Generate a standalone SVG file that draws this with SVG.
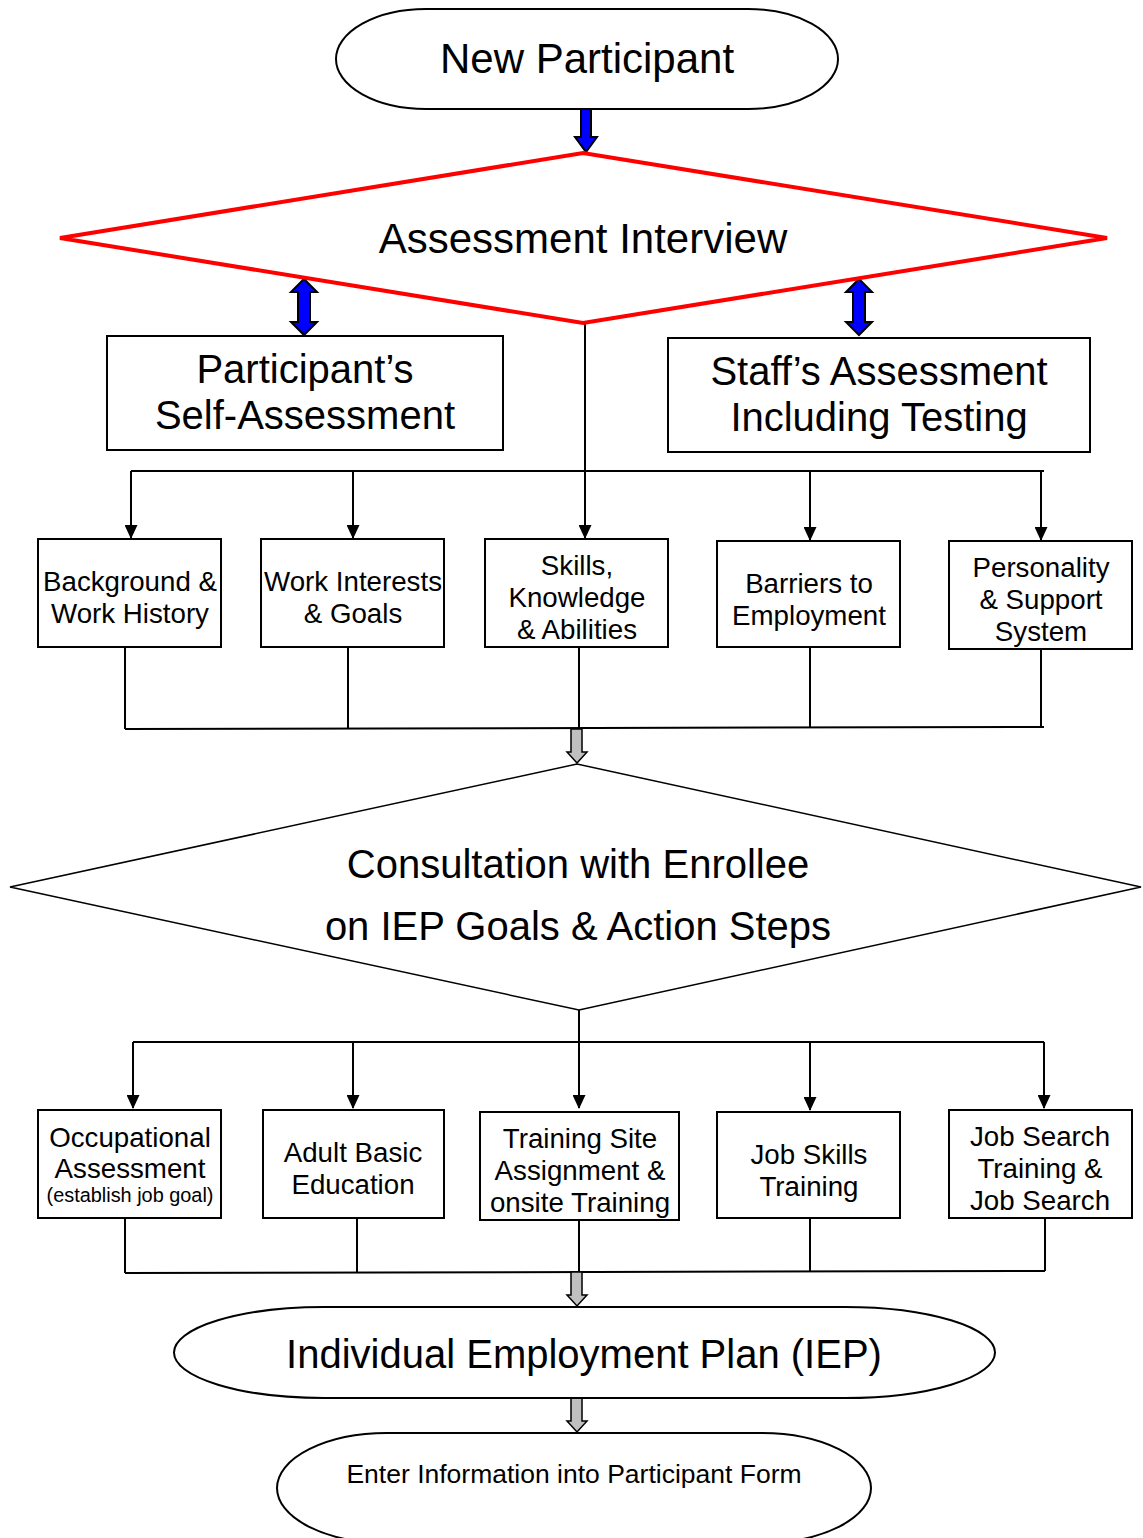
<svg xmlns="http://www.w3.org/2000/svg" width="1143" height="1538" viewBox="0 0 1143 1538">
<style>
text{font-family:"Liberation Sans",Arial,sans-serif;fill:#000;text-anchor:middle}
.box{fill:#fff;stroke:#000;stroke-width:2}
.ln{stroke:#000;stroke-width:2;fill:none}
.t28{font-size:27.7px}
.t40{font-size:40px}
.t42{font-size:42px}
.blue{fill:#0000ff;stroke:#000;stroke-width:2;stroke-linejoin:miter}
.gray{fill:#c0c0c0;stroke:#000;stroke-width:1.5}
</style>
<defs>
<marker id="ah" markerWidth="14" markerHeight="13" refX="13" refY="6.5" orient="auto" markerUnits="userSpaceOnUse" viewBox="0 0 14 13">
<path d="M0,0 L14,6.5 L0,13 z" fill="#000"/>
</marker>
</defs>
<rect width="1143" height="1538" fill="#fff"/>

<g id="connectors">
<path class="blue" d="M581,107 L591,107 L591,137 L597,137 L586,152 L575,137 L581,137 z"/>
<path class="blue" d="M304,279 L317,292 L310,292 L310,322 L317,322 L304,335 L291,322 L298,322 L298,292 L291,292 z"/>
<path class="blue" d="M859,279 L872,292 L865,292 L865,322 L872,322 L859,335 L846,322 L853,322 L853,292 L846,292 z"/>
<line class="ln" x1="585" y1="323" x2="585" y2="538" marker-end="url(#ah)"/>
<line class="ln" x1="131" y1="471" x2="1044" y2="471"/>
<line class="ln" x1="131" y1="471" x2="131" y2="538" marker-end="url(#ah)"/>
<line class="ln" x1="353" y1="471" x2="353" y2="538" marker-end="url(#ah)"/>
<line class="ln" x1="810" y1="471" x2="810" y2="540" marker-end="url(#ah)"/>
<line class="ln" x1="1041" y1="471" x2="1041" y2="540" marker-end="url(#ah)"/>
<line class="ln" x1="125" y1="647" x2="125" y2="729"/>
<line class="ln" x1="348" y1="647" x2="348" y2="729"/>
<line class="ln" x1="579" y1="647" x2="579" y2="729"/>
<line class="ln" x1="810" y1="647" x2="810" y2="728"/>
<line class="ln" x1="1041" y1="649" x2="1041" y2="727"/>
<line class="ln" x1="125" y1="729" x2="1044" y2="727"/>
<path class="gray" d="M571,729 L582,729 L582,752 L587,752 L577,763 L567,752 L571,752 z"/>
<line class="ln" x1="579" y1="1010" x2="579" y2="1108" marker-end="url(#ah)"/>
<line class="ln" x1="133" y1="1042" x2="1044" y2="1042"/>
<line class="ln" x1="133" y1="1042" x2="133" y2="1108" marker-end="url(#ah)"/>
<line class="ln" x1="353" y1="1042" x2="353" y2="1108" marker-end="url(#ah)"/>
<line class="ln" x1="810" y1="1042" x2="810" y2="1110" marker-end="url(#ah)"/>
<line class="ln" x1="1044" y1="1042" x2="1044" y2="1108" marker-end="url(#ah)"/>
<line class="ln" x1="125" y1="1218" x2="125" y2="1273"/>
<line class="ln" x1="357" y1="1218" x2="357" y2="1273"/>
<line class="ln" x1="579" y1="1220" x2="579" y2="1272"/>
<line class="ln" x1="810" y1="1218" x2="810" y2="1272"/>
<line class="ln" x1="1045" y1="1218" x2="1045" y2="1271"/>
<line class="ln" x1="125" y1="1273" x2="1045" y2="1271"/>
<path class="gray" d="M571,1272 L582,1272 L582,1295 L587,1295 L577,1306 L567,1295 L571,1295 z"/>
<path class="gray" d="M571,1398 L582,1398 L582,1421 L587,1421 L577,1432 L567,1421 L571,1421 z"/>
</g>

<g id="new-participant">
<rect x="336" y="9" width="502" height="100" rx="90" ry="50" fill="#fff" stroke="#000" stroke-width="2"/>
<text class="t42" x="587" y="73">New Participant</text>
</g>

<g id="assessment-interview">
<polygon points="60,238 583,153 1107,238 583,323" fill="#fff" stroke="#ff0000" stroke-width="4"/>
<text class="t42" x="583" y="253">Assessment Interview</text>
</g>

<g id="self-assessment">
<rect class="box" x="107" y="336" width="396" height="114"/>
<text class="t40" x="305" y="383">Participant’s</text>
<text class="t40" x="305" y="429">Self-Assessment</text>
</g>

<g id="staff-assessment">
<rect class="box" x="668" y="338" width="422" height="114"/>
<text class="t40" x="879" y="385">Staff’s Assessment</text>
<text class="t40" x="879" y="431">Including Testing</text>
</g>

<g id="background">
<rect class="box" x="38" y="539" width="183" height="108"/>
<text class="t28" x="130" y="591">Background &amp;</text>
<text class="t28" x="130" y="623">Work History</text>
</g>
<g id="work-interests">
<rect class="box" x="261" y="539" width="183" height="108"/>
<text class="t28" x="353" y="591">Work Interests</text>
<text class="t28" x="353" y="623">&amp; Goals</text>
</g>
<g id="skills">
<rect class="box" x="485" y="539" width="183" height="108"/>
<text class="t28" x="577" y="575">Skills,</text>
<text class="t28" x="577" y="607">Knowledge</text>
<text class="t28" x="577" y="639">&amp; Abilities</text>
</g>
<g id="barriers">
<rect class="box" x="717" y="541" width="183" height="106"/>
<text class="t28" x="809" y="593">Barriers to</text>
<text class="t28" x="809" y="625">Employment</text>
</g>
<g id="personality">
<rect class="box" x="949" y="541" width="183" height="108"/>
<text class="t28" x="1041" y="577">Personality</text>
<text class="t28" x="1041" y="609">&amp; Support</text>
<text class="t28" x="1041" y="641">System</text>
</g>

<g id="consultation">
<polygon points="10,887 577,764 1141,887 579,1010" fill="#fff" stroke="#000" stroke-width="1.5"/>
<text class="t40" x="578" y="878">Consultation with Enrollee</text>
<text class="t40" x="578" y="940">on IEP Goals &amp; Action Steps</text>
</g>

<g id="occupational">
<rect class="box" x="38" y="1110" width="183" height="108"/>
<text class="t28" x="130" y="1147">Occupational</text>
<text class="t28" x="130" y="1178">Assessment</text>
<text x="130" y="1202" style="font-size:19.9px">(establish job goal)</text>
</g>
<g id="adult-basic">
<rect class="box" x="263" y="1110" width="181" height="108"/>
<text class="t28" x="353" y="1162">Adult Basic</text>
<text class="t28" x="353" y="1194">Education</text>
</g>
<g id="training-site">
<rect class="box" x="480" y="1112" width="199" height="108"/>
<text class="t28" x="580" y="1148">Training Site</text>
<text class="t28" x="580" y="1180">Assignment &amp;</text>
<text class="t28" x="580" y="1212">onsite Training</text>
</g>
<g id="job-skills">
<rect class="box" x="717" y="1112" width="183" height="106"/>
<text class="t28" x="809" y="1164">Job Skills</text>
<text class="t28" x="809" y="1196">Training</text>
</g>
<g id="job-search">
<rect class="box" x="949" y="1110" width="183" height="108"/>
<text class="t28" x="1040" y="1146">Job Search</text>
<text class="t28" x="1040" y="1178">Training &amp;</text>
<text class="t28" x="1040" y="1210">Job Search</text>
</g>

<g id="iep">
<rect x="174" y="1307" width="821" height="91" rx="150" ry="45.5" fill="#fff" stroke="#000" stroke-width="2"/>
<text class="t40" x="584" y="1368">Individual Employment Plan (IEP)</text>
</g>

<g id="enter-info">
<rect x="277" y="1433" width="594" height="110" rx="110" ry="55" fill="#fff" stroke="#000" stroke-width="2"/>
<text x="574" y="1483" style="font-size:26.5px">Enter Information into Participant Form</text>
</g>
</svg>
